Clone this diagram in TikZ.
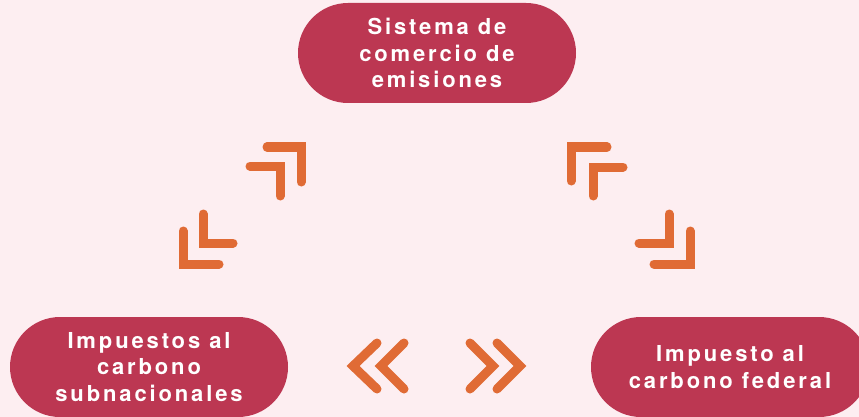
\documentclass[tikz,border=0pt]{standalone}
\usepackage{fontspec}
\newfontfamily\pillfont[LetterSpace=13]{TeX Gyre Heros}
\definecolor{bgpink}{RGB}{253,238,241}
\definecolor{crimson}{RGB}{188,55,82}
\definecolor{tangerine}{RGB}{224,107,53}
\tikzset{
  pill/.style={fill=crimson,rounded corners=50pt,minimum width=278pt,minimum height=100pt,
    align=center,text=white,font=\pillfont\bfseries\fontsize{22}{26.5}\selectfont,inner sep=0pt},
  chev/.style={draw=tangerine,line width=9pt,line cap=round,line join=miter}
}
\begin{document}
\begin{tikzpicture}[x=1pt,y=-1pt]
\fill[bgpink] (0,0) rectangle (859,417);
\useasboundingbox (0,0) rectangle (859,417);
\clip (0,0) rectangle (859,417);
\node[pill] (emis) at (437,53) {Sistema de\\comercio de\\emisiones};
\node[pill] (subn) at (149,367) {Impuestos al\\carbono\\subnacionales};
\node[pill] (fed) at (730,367) {Impuesto al\\carbono federal};
% left side brackets
\draw[chev] (267,147) -- (301,147) -- (301,182);
\draw[chev] (250,166) -- (280,166) -- (280,196);
\draw[chev] (203,214) -- (203,243) -- (233,243);
\draw[chev] (183,231) -- (183,264) -- (219,264);
% right side brackets
\draw[chev] (571,181) -- (571,147) -- (607,147);
\draw[chev] (593,196) -- (593,167) -- (623,167);
\draw[chev] (669,214) -- (669,243) -- (639,243);
\draw[chev] (690,231) -- (690,264) -- (654,264);
% chevrons between the bottom nodes
\draw[chev] (377,343) -- (353,366) -- (377,389);
\draw[chev] (404,343) -- (381,366) -- (404,389);
\draw[chev] (470,343) -- (493,366) -- (470,389);
\draw[chev] (497,343) -- (520,366) -- (497,389);
\end{tikzpicture}
\end{document}
